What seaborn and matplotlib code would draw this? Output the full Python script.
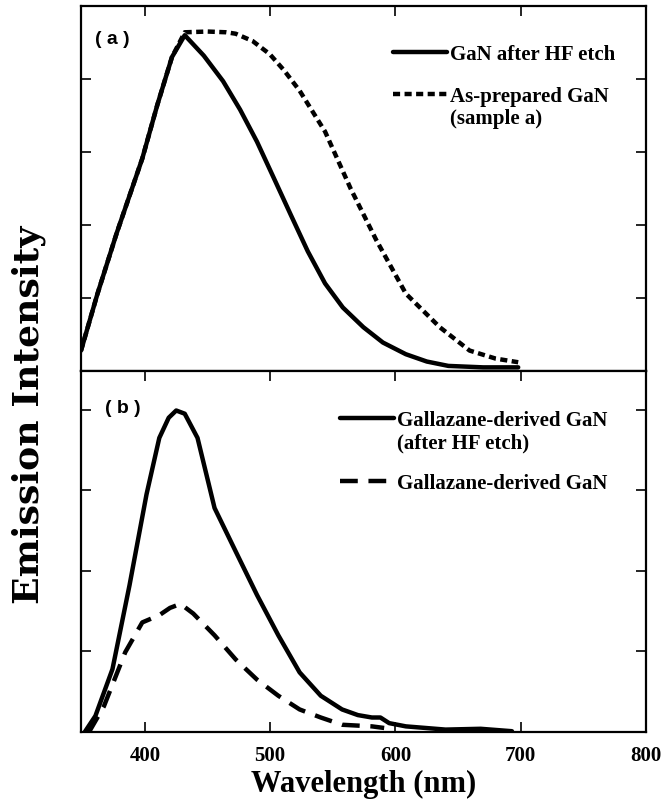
import pandas as pd
import seaborn as sns
import matplotlib.pyplot as plt

# panel (a): GaN (arbitrary intensity units)
wl_a_etch = [349, 362, 377.5, 397.9, 410, 421.6, 431.8, 447, 462.4, 476, 489.5, 503, 516.7, 530, 543.8, 558, 574.4, 590, 608.3, 625, 642.2, 670, 698]
em_a_etch = [0.28, 1.05, 1.89, 2.91, 3.65, 4.30, 4.60, 4.32, 3.97, 3.58, 3.14, 2.64, 2.13, 1.64, 1.20, 0.87, 0.60, 0.39, 0.23, 0.13, 0.07, 0.05, 0.05]
wl_a_asprep = [349, 362, 377.5, 397.9, 410, 421.6, 431.8, 450, 465, 472.5, 486, 499.7, 511, 523.5, 543.8, 564.2, 584.5, 608.3, 635.4, 659.2, 680, 698]
em_a_asprep = [0.28, 1.05, 1.89, 2.91, 3.65, 4.30, 4.64, 4.65, 4.64, 4.62, 4.52, 4.34, 4.12, 3.84, 3.28, 2.50, 1.80, 1.06, 0.60, 0.28, 0.17, 0.12]

# panel (b): gallazane-derived GaN
wl_b_etch = [352, 360.5, 374.1, 387.7, 401.3, 411.5, 419, 425, 431.8, 442, 455.6, 472.5, 489.5, 506.5, 523.5, 540.4, 557.4, 570, 581.2, 588, 595, 608.3, 640, 668, 693]
em_b_etch = [0.0, 0.20, 0.78, 1.82, 2.95, 3.65, 3.90, 3.99, 3.95, 3.65, 2.78, 2.24, 1.70, 1.20, 0.74, 0.45, 0.28, 0.21, 0.18, 0.18, 0.11, 0.07, 0.03, 0.04, 0.01]
wl_b_raw = [355.4, 367.3, 384.3, 397.9, 411.5, 420, 428.4, 438.6, 455.6, 472.5, 489.5, 506.5, 523.5, 540.4, 557.4, 581.2, 591]
em_b_raw = [0.0, 0.32, 0.99, 1.36, 1.45, 1.54, 1.59, 1.47, 1.20, 0.90, 0.65, 0.45, 0.28, 0.18, 0.09, 0.07, 0.05]

xticks = [400, 500, 600, 700, 800]
labels_a = ["GaN after HF etch", "As-prepared GaN"]
labels_b = ["Gallazane-derived GaN", "Gallazane-derived GaN "]

sns.set_style("ticks", {"text.color": "black", "axes.labelcolor": "black",
                        "xtick.color": "black", "ytick.color": "black",
                        "axes.edgecolor": "black"})
serif = ["Liberation Serif", "DejaVu Serif"]

fig = plt.figure(figsize=(6.69, 8.04), dpi=100)
ax_a = fig.add_axes([0.1211, 0.5373, 0.8445, 0.454])
ax_b = fig.add_axes([0.1211, 0.0883, 0.8445, 0.449])

df_a = pd.concat([
    pd.DataFrame({"wl": wl_a_etch, "em": em_a_etch, "s": "etch"}),
    pd.DataFrame({"wl": wl_a_asprep, "em": em_a_asprep, "s": "asprep"}),
])
df_b = pd.concat([
    pd.DataFrame({"wl": wl_b_etch, "em": em_b_etch, "s": "etch"}),
    pd.DataFrame({"wl": wl_b_raw, "em": em_b_raw, "s": "raw"}),
])

sns.lineplot(data=df_a, x="wl", y="em", hue="s", style="s", ax=ax_a, legend=False,
             palette=["black", "black"], dashes=["", (1.6, 1.0)], lw=3.2, sort=False)
sns.lineplot(data=df_b, x="wl", y="em", hue="s", style="s", ax=ax_b, legend=False,
             palette=["black", "black"], dashes=["", (4.0, 2.4)], lw=3.2, sort=False)

for ax, top in [(ax_a, 5.0), (ax_b, 4.48)]:
    ax.set_xlim(349, 800)
    ax.set_ylim(0, top)
    ax.set_xticks(xticks)
    ax.set_yticks([1, 2, 3, 4])
    ax.set_yticklabels([])
    ax.tick_params(direction="in", length=7, width=1.2, top=True, right=True)
    for sp in ax.spines.values():
        sp.set_linewidth(1.6)
    ax.set_xlabel("")
    ax.set_ylabel("")

ax_a.tick_params(axis="x", bottom=False, labelbottom=False)
ax_b.set_xticklabels([str(t) for t in xticks], fontsize=15, fontweight="bold", family=serif)
ax_b.tick_params(axis="x", pad=9)

ax_a.text(0.025, 0.912, "( a )", transform=ax_a.transAxes, fontsize=14, fontweight="bold",
          family="Liberation Sans", va="center")
ax_b.text(0.042, 0.900, "( b )", transform=ax_b.transAxes, fontsize=14, fontweight="bold",
          family="Liberation Sans", va="center")

leg_font = {"family": serif, "weight": "bold", "size": 15}
leg_a = ax_a.legend(ax_a.lines[:2], labels_a, loc="upper left", bbox_to_anchor=(0.552, 0.896),
                    frameon=False, prop=leg_font, handlelength=2.6, handletextpad=0.15,
                    labelspacing=1.05, borderpad=0, borderaxespad=0)
leg_b = ax_b.legend(ax_b.lines[:2], labels_b, loc="upper left", bbox_to_anchor=(0.458, 0.891),
                    frameon=False, prop=leg_font, handlelength=2.6, handletextpad=0.15,
                    labelspacing=2.05, borderpad=0, borderaxespad=0)

ax_b.set_xlabel("Wavelength (nm)", fontsize=22, fontweight="bold", family=serif, labelpad=3)
fig.text(0.043, 0.484, "Emission Intensity", rotation=90, fontsize=26, fontweight="bold",
         family="DejaVu Serif", ha="center", va="center")

# second lines of the two-line legend entries, placed under the legend text
fig.canvas.draw()
inv = fig.transFigure.inverted()
for leg, idx, extra in [(leg_a, 1, "(sample a)"), (leg_b, 0, "(after HF etch)")]:
    bb = leg.get_texts()[idx].get_window_extent()
    x0, y0 = inv.transform((bb.x0, bb.y0 - 2))
    fig.text(x0, y0, extra, fontsize=15, fontweight="bold", family=serif, va="top", ha="left")

fig.savefig("out.png", dpi=100)
